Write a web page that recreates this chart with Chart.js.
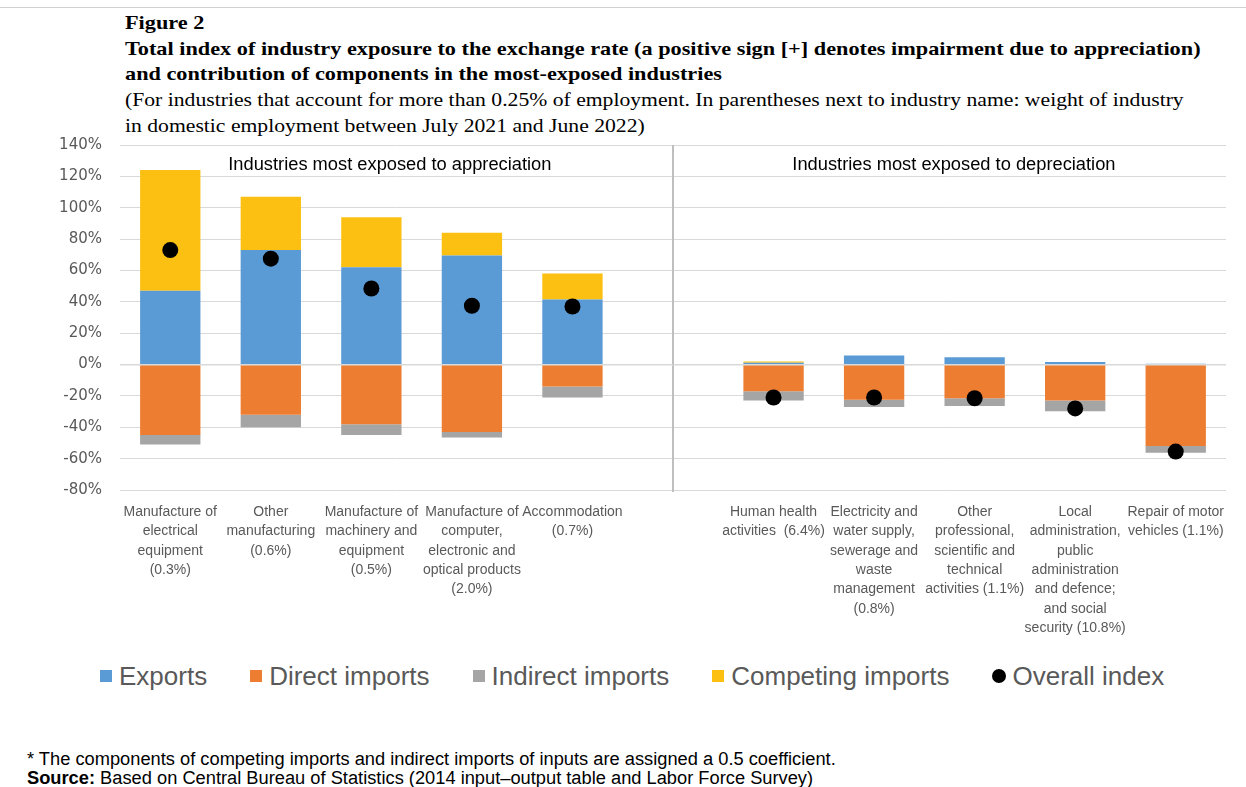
<!DOCTYPE html>
<html>
<head>
<meta charset="utf-8">
<script src="https://cdn.jsdelivr.net/npm/chart.js@4.4.0/dist/chart.umd.min.js"></script>
<style>
  body { margin: 0; background: #fff; width: 1246px; height: 787px; overflow: hidden; position: relative; }
  .topline { position: absolute; left: 0; top: 7px; width: 1246px; height: 1px; background: #d0d0d0; }
  .tl { position: absolute; left: 125px; font-family: "Liberation Serif", serif; font-size: 19px; line-height: 25.5px; color: #000; white-space: nowrap; transform-origin: 0 50%; }
  .tl.b { font-weight: bold; transform: scaleX(1.172); }
  .tl.r { transform: scaleX(1.14); }
  #wrap { position: absolute; left: 0; top: 118px; width: 1246px; height: 522px; }
  #legend { position: absolute; left: 100px; top: 661px; display: flex; align-items: center; font-family: "Liberation Sans", Arial, sans-serif; font-size: 26px; line-height: 30px; color: #595959; white-space: nowrap; }
  #legend .item { display: flex; align-items: center; margin-right: 43px; }
  #legend .mark { width: 12px; height: 12px; margin-right: 7px; }
  #legend .mark.dot { width: 14px; height: 14px; border-radius: 50%; margin-right: 6px; }
  .note { position: absolute; left: 27px; top: 750px; font-family: "Liberation Sans", Arial, sans-serif; font-size: 18px; line-height: 19px; color: #000; white-space: nowrap; transform-origin: 0 50%; transform: scaleX(1.015); }
</style>
</head>
<body>
<div class="topline"></div>
<div class="tl b" style="top:10px">Figure 2</div>
<div class="tl b" style="top:35.5px">Total index of industry exposure to the exchange rate (a positive sign [+] denotes impairment due to appreciation)</div>
<div class="tl b" style="top:61px">and contribution of components in the most-exposed industries</div>
<div class="tl r" style="top:87px">(For industries that account for more than 0.25% of employment. In parentheses next to industry name: weight of industry</div>
<div class="tl r" style="top:112.5px">in domestic employment between July 2021 and June 2022)</div>
<div id="wrap"><canvas id="myChart"></canvas></div>
<div id="legend"></div>
<div class="note">
  * The components of competing imports and indirect imports of inputs are assigned a 0.5 coefficient.<br>
  <b>Source:</b> Based on Central Bureau of Statistics (2014 input–output table and Labor Force Survey)
</div>

<script>
// industries (6th slot is the empty gap between the two groups)
const industries = [
  ["Manufacture of", "electrical", "equipment", "(0.3%)"],
  ["Other", "manufacturing", "(0.6%)"],
  ["Manufacture of", "machinery and", "equipment", "(0.5%)"],
  ["Manufacture of", "computer,", "electronic and", "optical products", "(2.0%)"],
  ["Accommodation", "(0.7%)"],
  "",
  ["Human health", "activities  (6.4%)"],
  ["Electricity and", "water supply,", "sewerage and", "waste", "management", "(0.8%)"],
  ["Other", "professional,", "scientific and", "technical", "activities (1.1%)"],
  ["Local", "administration,", "public", "administration", "and defence;", "and social", "security (10.8%)"],
  ["Repair of motor", "vehicles (1.1%)"]
];

// components, in %
const exportsVals   = [47, 73, 62, 69.5, 41.5, null, 1.2, 5.7, 4.7, 1.7, 0.5];
const directImports = [-45, -32, -38, -43, -14, null, -17, -22.5, -21.5, -23, -52];
const indirectImports = [-6, -8, -7, -3.5, -7, null, -6, -4.5, -5, -6.8, -4.3];
const competingImports = [77, 34, 32, 14.5, 16.5, null, 0.8, 0, 0, 0, 0];
const overallIndex  = [73, 67.5, 48.5, 37.5, 37, null, -21, -21, -21.5, -28, -55.5];

const yTicks = [-80, -60, -40, -20, 0, 20, 40, 60, 80, 100, 120, 140];

const groupTitles = [
  { text: "Industries most exposed to appreciation", at: 0.244 },
  { text: "Industries most exposed to depreciation", at: 0.754 }
];

const SANS = '"Liberation Sans", Arial, sans-serif';
const GREY = '#595959';

// divider line, group headings and the zero line drawn over the bars
const extras = {
  id: 'extras',
  beforeDatasetsDraw(chart) {
    const { ctx, chartArea, scales: { x } } = chart;
    const xs = x.getPixelForValue(5);
    ctx.save();
    ctx.strokeStyle = '#bfbfbf';
    ctx.lineWidth = 2;
    ctx.beginPath();
    ctx.moveTo(xs, chartArea.top);
    ctx.lineTo(xs, chartArea.bottom + 2);
    ctx.stroke();
    ctx.fillStyle = '#000';
    ctx.font = '18.3px ' + SANS;
    ctx.textAlign = 'center';
    ctx.textBaseline = 'middle';
    groupTitles.forEach(g => {
      ctx.fillText(g.text, chartArea.left + g.at * chartArea.width, chartArea.top + 20);
    });
    ctx.restore();
  },
  afterDatasetsDraw(chart) {
    const { ctx, chartArea, scales: { y } } = chart;
    const y0 = y.getPixelForValue(0);
    ctx.save();
    ctx.strokeStyle = '#d9d9d9';
    ctx.lineWidth = 1;
    ctx.beginPath();
    ctx.moveTo(chartArea.left, y0 + 0.5);
    ctx.lineTo(chartArea.right, y0 + 0.5);
    ctx.stroke();
    ctx.restore();
  }
};

function barSet(label, data, color) {
  return {
    type: 'bar',
    label: label,
    data: data,
    backgroundColor: color,
    borderWidth: 0,
    stack: 'parts',
    barPercentage: 0.6,
    categoryPercentage: 1,
    order: 2
  };
}

const config = {
  data: {
    labels: industries,
    datasets: [
      barSet('Exports', exportsVals, '#5b9bd5'),
      barSet('Direct imports', directImports, '#ed7d31'),
      barSet('Indirect imports', indirectImports, '#a5a5a5'),
      barSet('Competing imports', competingImports, '#fcc012'),
      {
        type: 'line',
        label: 'Overall index',
        data: overallIndex,
        showLine: false,
        stack: 'overall',
        pointRadius: 8,
        pointHoverRadius: 8,
        pointBackgroundColor: '#000',
        pointBorderColor: '#000',
        backgroundColor: '#000',
        borderColor: '#000',
        borderWidth: 0,
        order: 1
      }
    ]
  },
  options: {
    responsive: true,
    maintainAspectRatio: false,
    animation: false,
    layout: { padding: { top: 1, right: 20, left: 0, bottom: 0 } },
    scales: {
      x: {
        stacked: true,
        border: { display: false },
        grid: { display: false },
        ticks: {
          color: GREY,
          font: { family: SANS, size: 14, lineHeight: 1.39 },
          padding: 4,
          maxRotation: 0,
          autoSkip: false
        },
        afterFit(scale) { scale.height = 150; }
      },
      y: {
        stacked: true,
        min: -80,
        max: 140,
        border: { display: false },
        afterBuildTicks(scale) { scale.ticks = yTicks.map(v => ({ value: v })); },
        grid: { color: '#d9d9d9', lineWidth: 1, drawTicks: false },
        ticks: {
          color: GREY,
          font: { family: '"DejaVu Sans", sans-serif', size: 15 },
          padding: 18,
          callback: v => v + '%'
        },
        afterFit(scale) { scale.width = 120; }
      }
    },
    plugins: {
      tooltip: { enabled: false },
      legend: { display: false }
    }
  },
  plugins: [extras]
};

const chart = new Chart(document.getElementById('myChart'), config);

// legend built from the chart's own datasets, in dataset order
let legendHtml = '';
chart.data.datasets.forEach(ds => {
  const isDot = ds.type === 'line';
  const colour = isDot ? ds.pointBackgroundColor : ds.backgroundColor;
  legendHtml += `<div class="item"><span class="mark${isDot ? ' dot' : ''}" style="background:${colour}"></span>${ds.label}</div>`;
});
document.getElementById('legend').innerHTML = legendHtml;
</script>
</body>
</html>
